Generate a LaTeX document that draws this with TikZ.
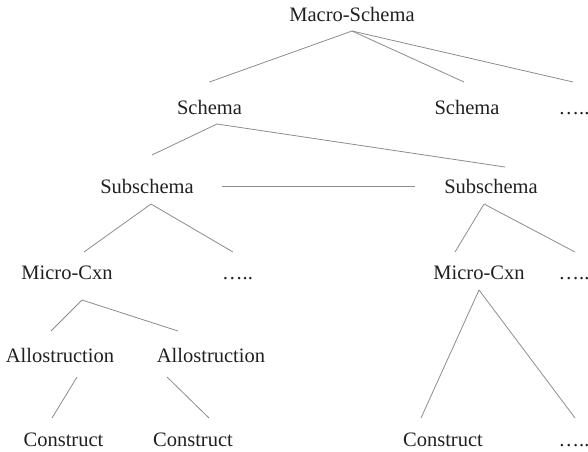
\documentclass[tikz,border=0pt]{standalone}
\usepackage{fontspec}
\setmainfont{Liberation Serif}
\definecolor{linegray}{RGB}{140,140,140}
\definecolor{textdark}{RGB}{35,31,32}
\begin{document}
\begin{tikzpicture}[
  lbl/.style={inner sep=0pt, outer sep=0pt, anchor=base, text=textdark, font=\fontsize{20.5}{24}\selectfont},
  conn/.style={draw=linegray, line width=0.8pt}
]
\useasboundingbox (0pt,0pt) rectangle (588pt,-451pt);
% nodes (anchor base: centre x, baseline y)
\node[lbl] (macro)   at (352pt,-21pt)  {Macro-Schema};
\node[lbl] (schemaL) at (209.5pt,-114pt) {Schema};
\node[lbl] (schemaR) at (467pt,-114pt) {Schema};
\node[lbl] (dotsA)   at (574pt,-114pt) {\textellipsis..};
\node[lbl] (subL)    at (147pt,-193pt) {Subschema};
\node[lbl] (subR)    at (491pt,-193pt) {Subschema};
\node[lbl] (microL)  at (67pt,-279pt)  {Micro-Cxn};
\node[lbl] (dotsB)   at (237.5pt,-279pt) {\textellipsis..};
\node[lbl] (microR)  at (479pt,-279pt) {Micro-Cxn};
\node[lbl] (dotsC)   at (574pt,-279pt) {\textellipsis..};
\node[lbl] (alloL)   at (60pt,-362pt)  {Allostruction};
\node[lbl] (alloR)   at (211pt,-362pt) {Allostruction};
\node[lbl] (conL)    at (63.5pt,-446pt) {Construct};
\node[lbl] (conM)    at (193pt,-446pt) {Construct};
\node[lbl] (conR)    at (443pt,-446pt) {Construct};
\node[lbl] (dotsD)   at (574pt,-446pt) {\textellipsis..};
% connectors
\draw[conn] ([shift={(0pt,-10pt)}]macro.base) -- ([shift={(0pt,32pt)}]schemaL.base);
\draw[conn] ([shift={(0pt,-10pt)}]macro.base) -- ([shift={(-3pt,32pt)}]schemaR.base);
\draw[conn] ([shift={(0pt,-10pt)}]macro.base) -- ([shift={(-1pt,32pt)}]dotsA.base);
\draw[conn] ([shift={(7.5pt,-10pt)}]schemaL.base) -- ([shift={(5pt,38pt)}]subL.base);
\draw[conn] ([shift={(7.5pt,-10pt)}]schemaL.base) -- ([shift={(14pt,26pt)}]subR.base);
\draw[conn] ([shift={(75pt,7pt)}]subL.base) -- ([shift={(-76pt,7pt)}]subR.base);
\draw[conn] ([shift={(4pt,-11pt)}]subL.base) -- ([shift={(17pt,27pt)}]microL.base);
\draw[conn] ([shift={(4pt,-11pt)}]subL.base) -- ([shift={(-4.5pt,27pt)}]dotsB.base);
\draw[conn] ([shift={(-7pt,-11pt)}]subR.base) -- ([shift={(-24pt,27pt)}]microR.base);
\draw[conn] ([shift={(-7pt,-11pt)}]subR.base) -- ([shift={(1pt,27pt)}]dotsC.base);
\draw[conn] ([shift={(15pt,-21pt)}]microL.base) -- ([shift={(-9pt,31pt)}]alloL.base);
\draw[conn] ([shift={(15pt,-21pt)}]microL.base) -- ([shift={(-33pt,31pt)}]alloR.base);
\draw[conn] ([shift={(0pt,-11pt)}]microR.base) -- ([shift={(-22pt,28pt)}]conR.base);
\draw[conn] ([shift={(0pt,-11pt)}]microR.base) -- ([shift={(1pt,28pt)}]dotsD.base);
\draw[conn] ([shift={(17pt,-15pt)}]alloL.base) -- ([shift={(-11.5pt,28pt)}]conL.base);
\draw[conn] ([shift={(-44pt,-15pt)}]alloR.base) -- ([shift={(16pt,28pt)}]conM.base);
\end{tikzpicture}
\end{document}
